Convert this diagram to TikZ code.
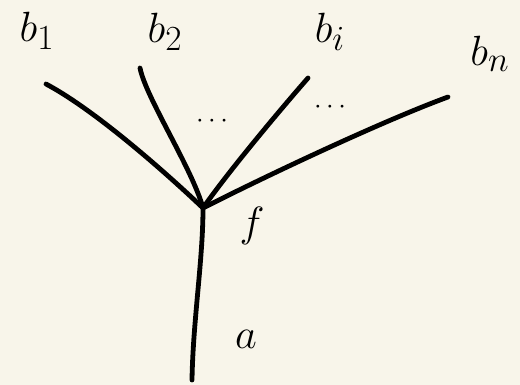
\documentclass[tikz,border=0pt]{standalone}
\begin{document}
\begin{tikzpicture}[x=1pt,y=-1pt,
  wire/.style={line width=4.8pt,line cap=round,line join=round,black},
  lbl/.style={inner sep=0pt,font=\Huge,scale=1.7},
  dotlbl/.style={inner sep=0pt,font=\Huge,scale=1.1}]
\fill[fill={rgb,255:red,248;green,245;blue,234}] (0,0) rectangle (520,385);
\useasboundingbox (0,0) rectangle (520,385);
\coordinate (f) at (203,208);
\coordinate (e1) at (46,84);
\coordinate (e2) at (140,68);
\coordinate (ei) at (308,78);
\coordinate (en) at (448,97);
\coordinate (ea) at (192,380);
\draw[wire] (e1) .. controls (95,110) and (165,172) .. (f);
\draw[wire] (e2) .. controls (146,98) and (192,168) .. (f);
\draw[wire] (ei) .. controls (280,110) and (228,172) .. (f);
\draw[wire] (en) .. controls (380,122) and (262,178) .. (f);
\draw[wire] (f) .. controls (203,260) and (193,320) .. (ea);
\node[lbl] (lb1) at (37,31) {$b_1$};
\node[lbl] (lb2) at (165,32) {$b_2$};
\node[lbl] (lbi) at (330,32) {$b_i$};
\node[lbl] (lbn) at (490,54) {$b_n$};
\node[lbl] (lf) at (252,226) {$f$};
\node[lbl] (la) at (246,339) {$a$};
\node[dotlbl] (d1) at (212,121) {$\cdots$};
\node[dotlbl] (d2) at (330,107) {$\cdots$};
\end{tikzpicture}
\end{document}
